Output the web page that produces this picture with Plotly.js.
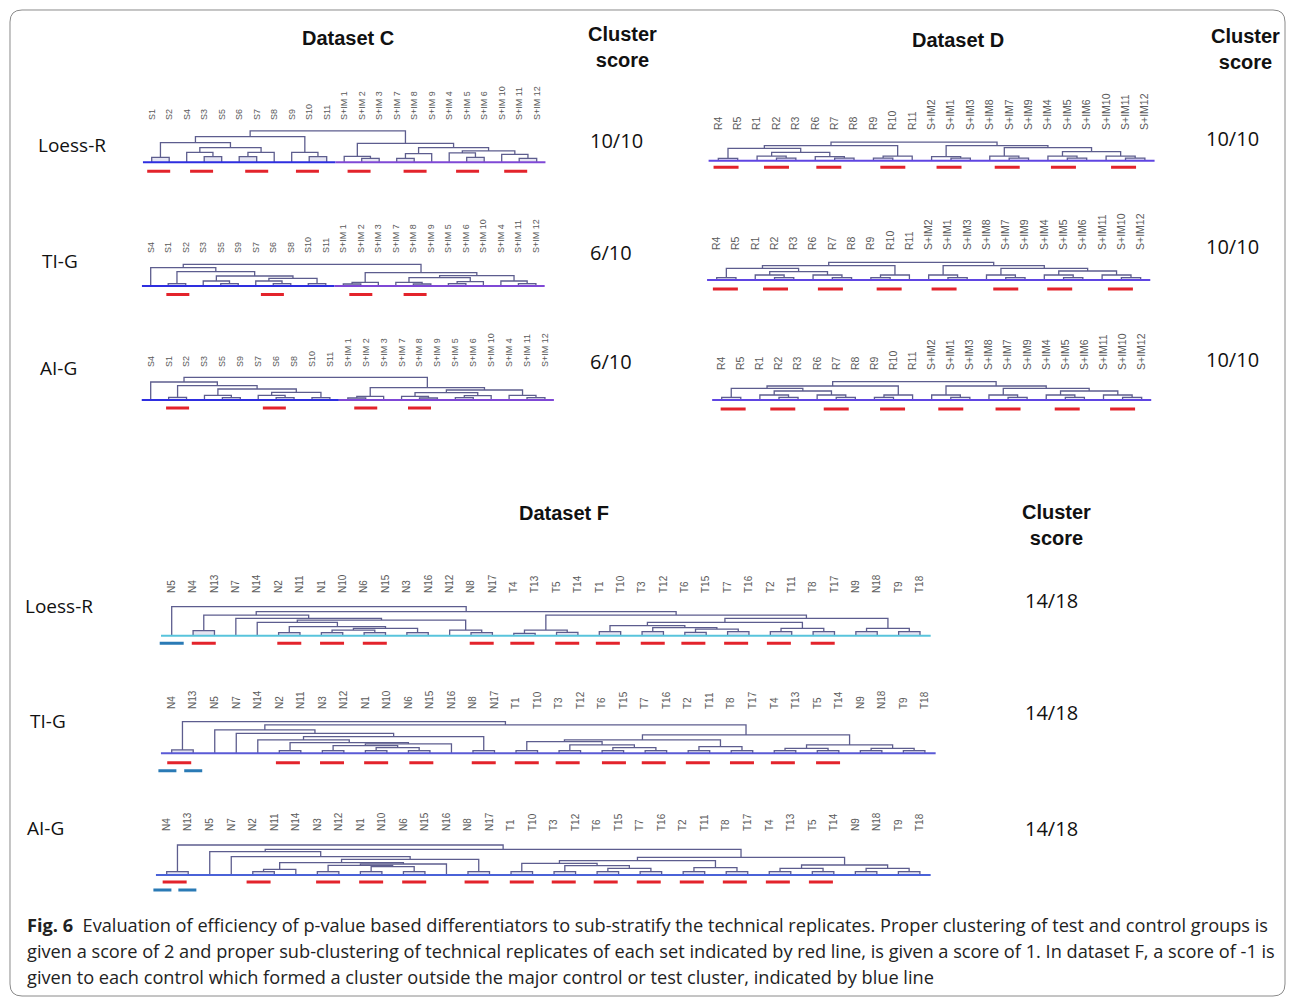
<!DOCTYPE html>
<html>
<head>
<meta charset="utf-8">
<script src="https://cdn.plot.ly/plotly-3.0.1.min.js"></script>
<style>
html,body{margin:0;padding:0;background:#ffffff;}
#chart{width:1295px;height:998px;}
</style>
</head>
<body>
<div id="chart"></div>
<script>
// ================= DATA =================
const methods = ["Loess-R", "TI-G", "AI-G"];
const datasetTitles = ["Dataset C", "Dataset D", "Dataset F"];
const scoreHeader = "Cluster<br>score";
const scoresC = ["10/10", "6/10", "6/10"];
const scoresD = ["10/10", "10/10", "10/10"];
const scoresF = ["14/18", "14/18", "14/18"];

// Trees: [mergeHeight, left, right]; an integer is a leaf position in the label list.
// Red / blue arrays: centre of each marked replicate pair, in leaf positions.

// ---- Dataset C ----
const labelsC_LR = ["S1","S2","S4","S3","S5","S6","S7","S8","S9","S10","S11","S+IM 1","S+IM 2","S+IM 3","S+IM 7","S+IM 8","S+IM 9","S+IM 4","S+IM 5","S+IM 6","S+IM 10","S+IM 11","S+IM 12"];
const treeC_LR = [94,[77,[59,[15,0,1],[44,[30,2,[17,3,4]],[30,[17,5,6],7]]],[30,8,[17,9,10]]],[57,[18,11,[12,12,13]],[44,[26,[12,14,15],16],[34,[28,17,[15,18,19]],[24,20,[12,21,22]]]]]];
const redC_LR = [0.4, 2.85, 6.0, 8.9, 11.85, 15.05, 18.05, 20.8];

const labelsC_TG = ["S4","S1","S2","S3","S5","S9","S7","S6","S8","S10","S11","S+IM 1","S+IM 2","S+IM 3","S+IM 7","S+IM 8","S+IM 9","S+IM 5","S+IM 6","S+IM 10","S+IM 4","S+IM 11","S+IM 12"];
const treeC_TG = [65,[55,0,[43,[7,1,2],[30,[15,3,[7,4,5]],[23,[15,6,[7,7,8]],[7,9,10]]]]],[40,[11,[6,11,12],13],[31,[25,[11,14,[6,15,16]],[13,[7,17,18],19]],[15,20,[7,21,22]]]]];
const redC_TG = [1.55, 6.95, 12.0, 15.1];

const labelsC_AG = ["S4","S1","S2","S3","S5","S9","S7","S6","S8","S10","S11","S+IM 1","S+IM 2","S+IM 3","S+IM 7","S+IM 8","S+IM 9","S+IM 5","S+IM 6","S+IM 10","S+IM 4","S+IM 11","S+IM 12"];
const treeC_AG = [68,[54,0,[43,[8,1,2],[33,[14,3,[7,4,5]],[23,[14,6,[7,7,8]],[7,9,10]]]]],[37,[11,[6,11,12],13],[30,[22,[11,14,[6,15,16]],[13,[7,17,18],19]],[14,20,[7,21,22]]]]];
const redC_AG = [1.5, 6.9, 12.0, 15.0];

// ---- Dataset D ----
const labelsD_LR = ["R4","R5","R1","R2","R3","R6","R7","R8","R9","R10","R11","S+IM2","S+IM1","S+IM3","S+IM8","S+IM7","S+IM9","S+IM4","S+IM5","S+IM6","S+IM10","S+IM11","S+IM12"];
const treeD_LR = [56,[45,[37,[7,0,1],[25,[14,2,[8,3,4]],[12,5,[8,6,7]]]],[14,[8,8,9],10]],[45,[12,11,[8,12,13]],[39,[14,14,[8,15,16]],[27,[14,17,[8,18,19]],[14,20,[8,21,22]]]]]];
const redD_LR = [0.4, 3.0, 5.7, 9.0, 11.9, 14.9, 17.8, 20.9];

const labelsD_TG = ["R4","R5","R1","R2","R3","R6","R7","R8","R9","R10","R11","S+IM2","S+IM1","S+IM3","S+IM8","S+IM7","S+IM9","S+IM4","S+IM5","S+IM6","S+IM11","S+IM10","S+IM12"];
const treeD_TG = [53,[43,[35,[7,0,1],[25,[15,2,[7,3,4]],[15,5,[7,6,7]]]],[15,[7,8,9],10]],[43,[15,11,[7,12,13]],[35,[15,14,[7,15,16]],[27,[15,17,[7,18,19]],[15,20,[7,21,22]]]]]];
const redD_TG = [0.45, 3.05, 5.9, 8.95, 11.8, 15.0, 17.8, 20.95];

const labelsD_AG = ["R4","R5","R1","R2","R3","R6","R7","R8","R9","R10","R11","S+IM2","S+IM1","S+IM3","S+IM8","S+IM7","S+IM9","S+IM4","S+IM5","S+IM6","S+IM11","S+IM10","S+IM12"];
const treeD_AG = [55,[42,[35,[8,0,1],[27,[15,2,[8,3,4]],[15,5,[8,6,7]]]],[15,[8,8,9],10]],[42,[15,11,[8,12,13]],[35,[15,14,[8,15,16]],[27,[15,17,[8,18,19]],[15,20,[8,21,22]]]]]];
const redD_AG = [0.6, 3.2, 6.0, 8.95, 12.0, 15.0, 18.1, 21.0];

// ---- Dataset F ----
const labelsF_LR = ["N5","N4","N13","N7","N14","N2","N11","N1","N10","N6","N15","N3","N16","N12","N8","N17","T4","T13","T5","T14","T1","T10","T3","T12","T6","T15","T7","T16","T2","T11","T8","T17","N9","N18","T9","T18"];
const treeF_LR = [87,0,[72,[62,[15,1,2],[52,3,[47,[40,4,[27,[9,5,6],[22,[17,[9,7,8],[9,9,10]],[9,11,12]]]],[17,13,[9,14,15]]]]],[62,[17,[7,16,17],[10,18,19]],[52,[40,[30,[12,20,21],[24,[12,22,23],[20,[10,24,25],[12,26,27]]]],[22,[12,28,29],[12,30,31]]],[22,[12,32,33],[12,34,35]]]]]];
const redF_LR = [1.5, 5.5, 7.5, 9.5, 14.5, 16.4, 18.5, 20.4, 22.5, 24.4, 26.4, 28.4, 30.45];
const blueF_LR = [0];

const labelsF_TG = ["N4","N13","N5","N7","N14","N2","N11","N3","N12","N1","N10","N6","N15","N16","N8","N17","T1","T10","T3","T12","T6","T15","T7","T16","T2","T11","T8","T17","T4","T13","T5","T14","N9","N18","T9","T18"];
const treeF_TG = [95,[10,0,1],[85,[70,2,[60,3,[50,[40,4,[32,[8,5,6],[28,[23,[8,7,8],[17,[8,9,10],[8,11,12]]],13]]],[8,14,15]]]],[55,[40,[35,[8,16,17],[25,[8,18,19],[17,[8,20,21],[8,22,23]]]],[20,[8,24,25],[8,26,27]]],[25,[15,[8,28,29],[8,30,31]],[15,[8,32,33],[8,34,35]]]]]];
const redF_TG = [0.35, 5.4, 7.45, 9.5, 11.6, 14.5, 16.5, 18.4, 20.55, 22.4, 24.45, 26.5, 28.4, 30.5];
const blueF_TG = [-0.2, 1.0];

const labelsF_AG = ["N4","N13","N5","N7","N2","N11","N14","N3","N12","N1","N10","N6","N15","N16","N8","N17","T1","T10","T3","T12","T6","T15","T7","T16","T2","T11","T8","T17","T4","T13","T5","T14","N9","N18","T9","T18"];
const treeF_AG = [90,[10,0,1],[77,[70,2,[55,3,[47,[37,[17,[10,4,5],6],[33,[29,[10,7,8],[25,[10,9,10],[10,11,12]]],13]],[10,14,15]]]],[53,[43,[35,[10,16,17],[28,[10,18,19],[20,[10,20,21],[10,22,23]]]],[22,[10,24,25],[10,26,27]]],[30,[20,[10,28,29],[10,30,31]],[20,[10,32,33],[10,34,35]]]]]];
const redF_AG = [0.37, 4.27, 7.5, 9.5, 11.5, 14.4, 16.5, 18.45, 20.4, 22.4, 24.4, 26.4, 28.4, 30.4];
const blueF_AG = [-0.2, 0.96];

// ================= LAYOUT / STYLE =================
const W = 1295, H = 998;
const PX_PER_UNIT = 1 / 3;          // merge-height unit -> pixels
const TREE_COLOR = "#5d5d8e";
const PAIR_FILL = "rgba(150,150,205,0.25)";
const RED = "#e3232b", BLUE = "#2a7ab5";

const panels = [
  {labels: labelsC_LR, tree: treeC_LR, red: redC_LR, blue: [], x0: 151.7, sp: 17.50, yb: 162.3, ylab: 118, lab: 9,    redDy: 9,   redW: 23, blueDy: 0, blueW: 0, base: ["#2e2ee0", "#7f48d6"]},
  {labels: labelsC_TG, tree: treeC_TG, red: redC_TG, blue: [], x0: 150.7, sp: 17.51, yb: 286.0, ylab: 251, lab: 9,    redDy: 8.5, redW: 23, blueDy: 0, blueW: 0, base: ["#2e2ee0", "#7f48d6"]},
  {labels: labelsC_AG, tree: treeC_AG, red: redC_AG, blue: [], x0: 150.7, sp: 17.92, yb: 400.0, ylab: 365, lab: 9,    redDy: 8,   redW: 23, blueDy: 0, blueW: 0, base: ["#2e2ee0", "#7f48d6"]},
  {labels: labelsD_LR, tree: treeD_LR, red: redD_LR, blue: [], x0: 718.3, sp: 19.39, yb: 160.7, ylab: 128, lab: 10.5, redDy: 6.6, redW: 25, blueDy: 0, blueW: 0, base: ["#5f45e2"]},
  {labels: labelsD_TG, tree: treeD_TG, red: redD_TG, blue: [], x0: 716.7, sp: 19.27, yb: 280.0, ylab: 248, lab: 10.5, redDy: 9,   redW: 25, blueDy: 0, blueW: 0, base: ["#5f45e2"]},
  {labels: labelsD_AG, tree: treeD_AG, red: redD_AG, blue: [], x0: 721.7, sp: 19.09, yb: 400.0, ylab: 368, lab: 10.5, redDy: 9,   redW: 25, blueDy: 0, blueW: 0, base: ["#5f45e2"]},
  {labels: labelsF_LR, tree: treeF_LR, red: redF_LR, blue: blueF_LR, x0: 171.7, sp: 21.38, yb: 635.7, ylab: 591, lab: 10, redDy: 7.6, redW: 24, blueDy: 7.6,  blueW: 24, base: ["#58c4dc"]},
  {labels: labelsF_TG, tree: treeF_TG, red: redF_TG, blue: blueF_TG, x0: 171.7, sp: 21.52, yb: 753.3, ylab: 707, lab: 10, redDy: 9.4, redW: 24, blueDy: 17.4, blueW: 18, base: ["#5a5ad6"]},
  {labels: labelsF_AG, tree: treeF_AG, red: redF_AG, blue: blueF_AG, x0: 166.7, sp: 21.52, yb: 875.0, ylab: 829, lab: 10, redDy: 7,   redW: 24, blueDy: 15,   blueW: 18, base: ["#4a62d8"]}
];

// dendrogram layout: returns {x, h}, appends U-shaped links and leaf-pair boxes
function layoutTree(node, xs, ys, bx, by) {
  if (typeof node === "number") return {x: node, h: 0};
  const A = layoutTree(node[1], xs, ys, bx, by);
  const B = layoutTree(node[2], xs, ys, bx, by);
  const h = node[0];
  xs.push(A.x, A.x, B.x, B.x, null);
  ys.push(A.h, h, h, B.h, null);
  if (typeof node[1] === "number" && typeof node[2] === "number") {
    bx.push(A.x, A.x, B.x, B.x, A.x, null);
    by.push(0, h, h, 0, 0, null);
  }
  return {x: (A.x + B.x) / 2, h: h};
}

const traces = [];
const layout = {
  width: W, height: H, autosize: false,
  margin: {l: 0, r: 0, t: 0, b: 0},
  paper_bgcolor: "#ffffff", plot_bgcolor: "rgba(0,0,0,0)",
  showlegend: false,
  annotations: [], shapes: []
};

panels.forEach((p, i) => {
  const k = i === 0 ? "" : String(i + 1);
  const n = p.labels.length;
  const xa = "x" + k, ya = "y" + k;
  const xs = [], ys = [], bx = [], by = [];
  layoutTree(p.tree, xs, ys, bx, by);
  traces.push({type: "scatter", mode: "lines", x: bx, y: by, xaxis: xa, yaxis: ya,
    fill: "toself", fillcolor: PAIR_FILL, line: {width: 0}, hoverinfo: "skip"});
  traces.push({type: "scatter", mode: "lines", x: xs, y: ys, xaxis: xa, yaxis: ya,
    line: {color: TREE_COLOR, width: 1.3}, hoverinfo: "skip"});
  if (p.base.length === 2) {
    const split = p.labels.findIndex(s => s.startsWith("S+")) - 0.5;
    traces.push({type: "scatter", mode: "lines", x: [-0.5, split], y: [0, 0], xaxis: xa, yaxis: ya,
      line: {color: p.base[0], width: 2}, hoverinfo: "skip"});
    traces.push({type: "scatter", mode: "lines", x: [split, n - 0.5], y: [0, 0], xaxis: xa, yaxis: ya,
      line: {color: p.base[1], width: 2}, hoverinfo: "skip"});
  } else {
    traces.push({type: "scatter", mode: "lines", x: [-0.5, n - 0.5], y: [0, 0], xaxis: xa, yaxis: ya,
      line: {color: p.base[0], width: 2}, hoverinfo: "skip"});
  }
  const mk = (arr, dy, wpx, color) => {
    if (!arr.length) return;
    const hw = wpx / p.sp / 2, yv = -dy / PX_PER_UNIT;
    const X = [], Y = [];
    arr.forEach(c => { X.push(c - hw, c + hw, null); Y.push(yv, yv, null); });
    traces.push({type: "scatter", mode: "lines", x: X, y: Y, xaxis: xa, yaxis: ya,
      line: {color: color, width: 3}, hoverinfo: "skip"});
  };
  mk(p.red, p.redDy, p.redW, RED);
  mk(p.blue, p.blueDy, p.blueW, BLUE);

  const xmin = -1.5, xmax = n + 0.5;
  const ytop = p.ylab + 3;
  const ybot = p.yb + Math.max(p.redDy, p.blueDy) + 8;
  layout["xaxis" + k] = {
    domain: [(p.x0 + xmin * p.sp) / W, (p.x0 + xmax * p.sp) / W],
    range: [xmin, xmax], anchor: ya, side: "top",
    tickmode: "array", tickvals: p.labels.map((_, j) => j), ticktext: p.labels,
    tickangle: -90, ticks: "", showgrid: false, zeroline: false, showline: false,
    tickfont: {family: "Liberation Sans, Arial, sans-serif", size: p.lab, color: "#5a5a5a"},
    fixedrange: true
  };
  layout["yaxis" + k] = {
    domain: [1 - ybot / H, 1 - ytop / H],
    range: [(p.yb - ybot) / PX_PER_UNIT, (p.yb - ytop) / PX_PER_UNIT],
    anchor: xa, showgrid: false, zeroline: false, showline: false,
    showticklabels: false, ticks: "", fixedrange: true
  };
});

// ---------- text ----------
const px = (x) => x / W, py = (y) => 1 - y / H;
function ann(text, x, y, opts) {
  layout.annotations.push(Object.assign({
    text: text, x: px(x), y: py(y), xref: "paper", yref: "paper",
    showarrow: false, xanchor: "center", yanchor: "middle",
    font: {family: "Liberation Sans, Arial, sans-serif", size: 20, color: "#111111"}
  }, opts || {}));
}
const boldFont = {family: "Liberation Sans, Arial, sans-serif", size: 20, color: "#111111"};
const rowFont = {family: "Open Sans, sans-serif", size: 19, color: "#111111"};
const scoreFont = {family: "Open Sans, sans-serif", size: 20, color: "#111111"};

ann("<b>" + datasetTitles[0] + "</b>", 348, 38, {font: boldFont});
ann("<b>" + scoreHeader + "</b>", 622, 47, {font: boldFont});
ann("<b>" + datasetTitles[1] + "</b>", 958, 40, {font: boldFont});
ann("<b>" + scoreHeader + "</b>", 1245, 49, {font: boldFont});
ann("<b>" + datasetTitles[2] + "</b>", 564, 513, {font: boldFont});
ann("<b>" + scoreHeader + "</b>", 1056, 525, {font: boldFont});

const rowCD = [[36, 145], [40, 261], [38, 368]];
const rowF = [[23, 606], [28, 721], [25, 828]];
methods.forEach((m, j) => {
  ann(m, rowCD[j][0], rowCD[j][1], {font: rowFont, xanchor: "left"});
  ann(m, rowF[j][0], rowF[j][1], {font: rowFont, xanchor: "left"});
});
const scC = [[616, 140], [611, 252], [611, 361]];
const scD = [[1232, 139], [1232, 246], [1232, 359]];
const scF = [[1051, 600], [1051, 712], [1051, 828]];
scoresC.forEach((s, j) => ann(s, scC[j][0], scC[j][1], {font: scoreFont}));
scoresD.forEach((s, j) => ann(s, scD[j][0], scD[j][1], {font: scoreFont}));
scoresF.forEach((s, j) => ann(s, scF[j][0], scF[j][1], {font: scoreFont}));

// caption
const captionLines = [
  "<b>Fig. 6</b>  Evaluation of efficiency of p-value based differentiators to sub-stratify the technical replicates. Proper clustering of test and control groups is",
  "given a score of 2 and proper sub-clustering of technical replicates of each set indicated by red line, is given a score of 1. In dataset F, a score of -1 is",
  "given to each control which formed a cluster outside the major control or test cluster, indicated by blue line"
];
const capFont = {family: "Open Sans, sans-serif", size: 18.2, color: "#222222"};
captionLines.forEach((t, j) => ann(t, 25, 925 + j * 26, {font: capFont, xanchor: "left"}));

// rounded frame
(function () {
  const x0 = 10, y0 = 10, x1 = 1285, y1 = 996, r = 12;
  const X = v => (v / W).toFixed(5), Y = v => (1 - v / H).toFixed(5);
  const path = `M ${X(x0 + r)},${Y(y0)} L ${X(x1 - r)},${Y(y0)} Q ${X(x1)},${Y(y0)} ${X(x1)},${Y(y0 + r)} ` +
    `L ${X(x1)},${Y(y1 - r)} Q ${X(x1)},${Y(y1)} ${X(x1 - r)},${Y(y1)} L ${X(x0 + r)},${Y(y1)} ` +
    `Q ${X(x0)},${Y(y1)} ${X(x0)},${Y(y1 - r)} L ${X(x0)},${Y(y0 + r)} Q ${X(x0)},${Y(y0)} ${X(x0 + r)},${Y(y0)} Z`;
  layout.shapes.push({type: "path", xref: "paper", yref: "paper", path: path,
    line: {color: "#8a8a8a", width: 1}, fillcolor: "rgba(0,0,0,0)", layer: "below"});
})();

Plotly.newPlot("chart", traces, layout, {displayModeBar: false, staticPlot: true});
</script>
</body>
</html>
